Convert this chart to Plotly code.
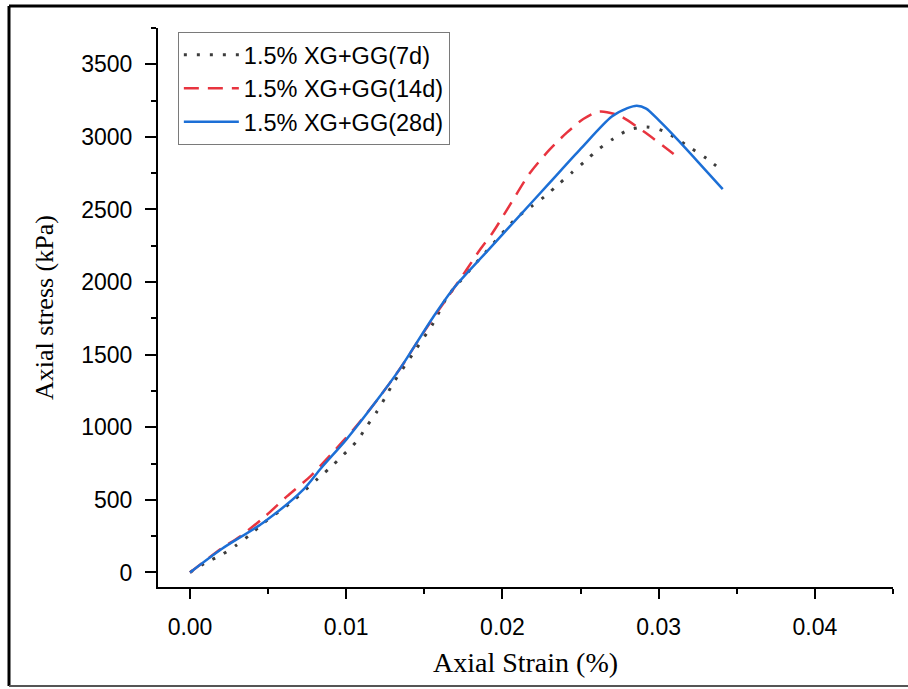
import plotly.graph_objects as go

# ---- data ----
strain_7d = [0.0, 0.00096, 0.00203, 0.00294, 0.00384, 0.0047, 0.0065, 0.00822, 0.00907, 0.00982,
             0.01067, 0.01131, 0.01195, 0.01248, 0.01302, 0.0143, 0.01558, 0.01643, 0.01729, 0.0190,
             0.02091, 0.02188, 0.02273, 0.02358, 0.02443, 0.02529, 0.02614, 0.0271, 0.02806, 0.02924,
             0.0303, 0.03212, 0.03308, 0.03404]
stress_7d = [0, 65, 122, 186, 260, 340, 485, 650, 731, 811,
             903, 1006, 1106, 1202, 1306, 1512, 1719, 1892, 2006, 2215,
             2443, 2523, 2592, 2673, 2753, 2833, 2914, 2988, 3047, 3068,
             3040, 2919, 2850, 2770]

strain_14d = [0.0, 0.002, 0.0032, 0.0048, 0.0062, 0.0077, 0.009, 0.0105, 0.012, 0.01355,
              0.01451, 0.01558, 0.01654, 0.01771, 0.01857, 0.0194, 0.0205, 0.02177, 0.023, 0.02412,
              0.0252, 0.0262, 0.02753, 0.029, 0.03073, 0.0311]
stress_14d = [0, 165, 248, 386, 524, 662, 811, 990, 1190, 1420,
              1581, 1754, 1903, 2087, 2224, 2345, 2535, 2753, 2910, 3029,
              3125, 3175, 3144, 3040, 2902, 2870]

strain_28d = [0.0, 0.002, 0.0047, 0.00725, 0.0084, 0.01, 0.012, 0.0134, 0.0156, 0.0169,
              0.019, 0.021, 0.023, 0.025, 0.027, 0.028, 0.0286, 0.0292, 0.030, 0.031,
              0.0325, 0.0341]
stress_28d = [0, 160, 345, 570, 720, 915, 1191, 1397, 1765, 1961,
              2210, 2446, 2681, 2917, 3140, 3198, 3215, 3195, 3115, 3005,
              2830, 2640]

series_names = ["1.5% XG+GG(7d)", "1.5% XG+GG(14d)", "1.5% XG+GG(28d)"]

x_tickvals = [0.0, 0.01, 0.02, 0.03, 0.04]
x_ticktext = ["0.00", "0.01", "0.02", "0.03", "0.04"]
y_tickvals = [0, 500, 1000, 1500, 2000, 2500, 3000, 3500]

SANS = "Liberation Sans, Arial, sans-serif"
SERIF = "Liberation Serif, Times New Roman, serif"

fig = go.Figure()
fig.add_trace(go.Scatter(x=strain_7d, y=stress_7d, mode="lines", name=series_names[0],
                         line=dict(color="#3c3c3c", width=3, dash="3px,10px", shape="spline", smoothing=0.8)))
fig.add_trace(go.Scatter(x=strain_14d, y=stress_14d, mode="lines", name=series_names[1],
                         line=dict(color="#e8343f", width=2.5, dash="15px,9px", shape="spline", smoothing=0.8)))
fig.add_trace(go.Scatter(x=strain_28d, y=stress_28d, mode="lines", name=series_names[2],
                         line=dict(color="#1c6fd6", width=2.5, shape="spline", smoothing=0.8)))

fig.update_layout(
    width=908, height=689,
    margin=dict(l=158, r=15, t=28, b=102),
    paper_bgcolor="white", plot_bgcolor="white",
    font=dict(family=SANS, size=23, color="black"),
    showlegend=True,
    legend=dict(x=0.027, y=0.993, xanchor="left", yanchor="top",
                bgcolor="white", bordercolor="#7a7a7a", borderwidth=1,
                font=dict(family=SANS, size=23.5, color="black"),
                tracegroupgap=0, itemwidth=55),
    xaxis=dict(
        range=[-0.00205, 0.045], tickmode="array", tickvals=x_tickvals, ticktext=x_ticktext,
        showline=True, linecolor="black", linewidth=2, mirror=False,
        ticks="outside", ticklen=10, tickwidth=2, tickcolor="black",
        ticklabelstandoff=8,
        showgrid=False, zeroline=False,
        minor=dict(dtick=0.005, tick0=0, ticks="outside", ticklen=5, tickwidth=2, tickcolor="black", showgrid=False),
        title=dict(text="Axial Strain (%)", font=dict(family=SERIF, size=28, color="black"), standoff=14),
        tickfont=dict(family=SANS, size=23, color="black"),
    ),
    yaxis=dict(
        range=[-100, 3750], tickmode="array", tickvals=y_tickvals,
        showline=True, linecolor="black", linewidth=2, mirror=False,
        ticks="outside", ticklen=11, tickwidth=2, tickcolor="black",
        ticklabelstandoff=8,
        showgrid=False, zeroline=False,
        minor=dict(dtick=250, tick0=0, ticks="outside", ticklen=5, tickwidth=2, tickcolor="black", showgrid=False),
        title=dict(text="Axial stress (kPa)", font=dict(family=SERIF, size=26, color="black"), standoff=20),
        tickfont=dict(family=SANS, size=23, color="black"),
    ),
)

# outer frame of the figure
frame = dict(type="line", xref="paper", yref="paper", layer="above")
x_left = (9 - 158) / 735
x_right = (910 - 158) / 735
y_top = (587 - 6) / 559
y_bot = (587 - 686) / 559
fig.add_shape(**frame, x0=x_left, x1=x_right, y0=y_top, y1=y_top, line=dict(color="black", width=3))
fig.add_shape(**frame, x0=x_left, x1=x_left, y0=y_top, y1=y_bot, line=dict(color="black", width=3))
fig.add_shape(**frame, x0=x_left, x1=x_right, y0=y_bot, y1=y_bot, line=dict(color="#555555", width=2))

fig.write_html("out.html")
